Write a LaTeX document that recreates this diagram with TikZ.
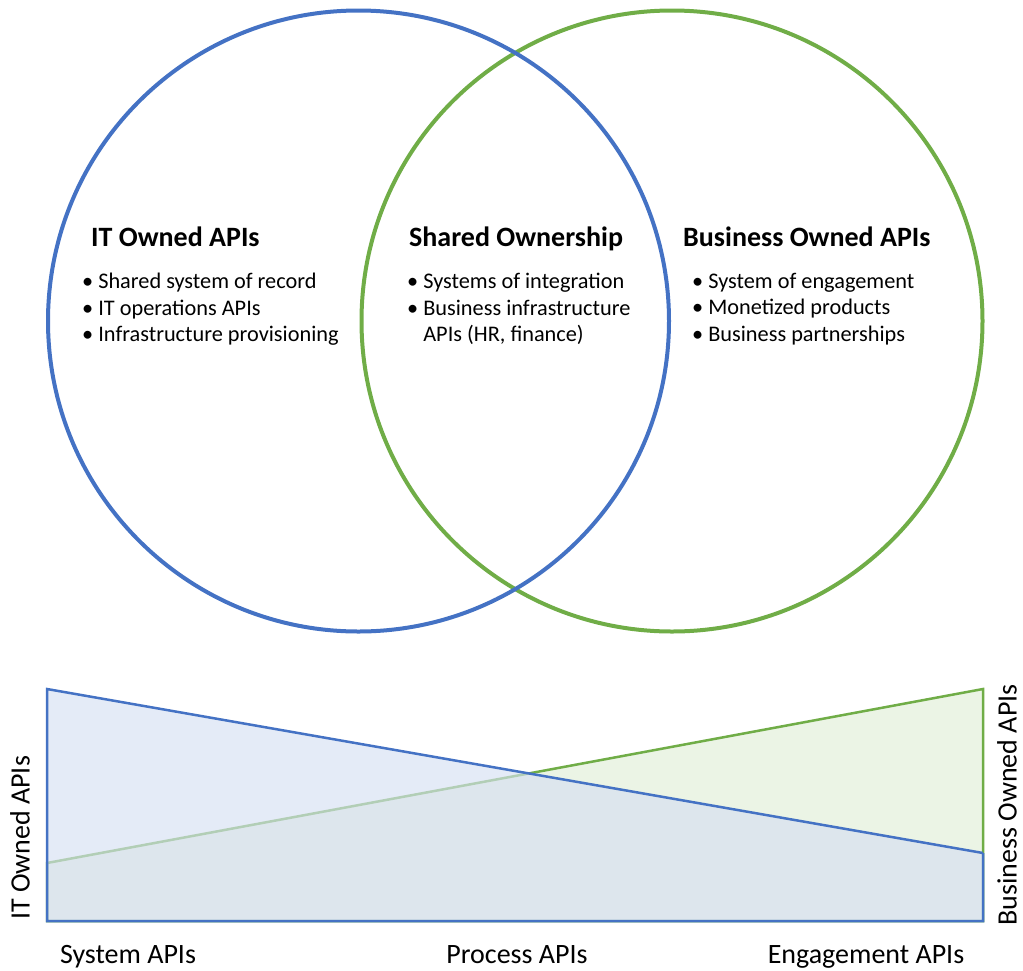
\documentclass[tikz,border=0pt]{standalone}
\usepackage{fontspec}
\setmainfont{Carlito}
\usetikzlibrary{calc}
\usetikzlibrary{positioning}
\definecolor{itblue}{HTML}{4472C4}
\definecolor{bizgreen}{HTML}{70AD47}

\begin{document}
\begin{tikzpicture}[x=1pt,y=-1pt]
\tikzstyle{ring}=[line width=4pt]
\tikzstyle{title}=[font=\fontsize{28}{32}\selectfont\bfseries,anchor=west,inner sep=0pt]
\tikzstyle{list}=[font=\fontsize{22.3}{26.5}\selectfont,align=left,anchor=north west,inner sep=0pt]
\tikzstyle{axis}=[font=\fontsize{28}{32}\selectfont,inner sep=0pt]
\useasboundingbox (0,0) rectangle (1023,970);
% venn
\draw[ring,bizgreen] (672,321) circle (310.5);
\draw[ring,itblue] (358.5,321) circle (310.5);
\node[title] at(91, 237) (itt) {IT Owned APIs};
\node[list] at(82, 273) (itl) {\textbullet\hspace{5pt}Shared system of record\\
                               \textbullet\hspace{5pt}IT operations APIs\\
                               \textbullet\hspace{5pt}Infrastructure provisioning};
\node[title] at(409, 239) (sht) {Shared Ownership};
\node[list] at(407, 273) (shl) {\textbullet\hspace{5pt}Systems of integration\\
                                \textbullet\hspace{5pt}Business infrastructure\\
                                \hphantom{\textbullet\hspace{5pt}}APIs (HR, finance)};
\node[title] at(683, 237) (bzt) {Business Owned APIs};
\node[list] at(692, 273) (bzl) {\textbullet\hspace{5pt}System of engagement\\
                                \textbullet\hspace{5pt}Monetized products\\
                                \textbullet\hspace{5pt}Business partnerships};
% ownership chart
\coordinate (bl) at (47, 921);
\coordinate (br) at (983, 921);
\filldraw[line width=2.5pt,bizgreen,fill=bizgreen!14] (bl) -- (47, 863) -- (983, 689) -- (br) -- cycle;
\fill[itblue!22,fill opacity=0.65] (bl) -- (47, 689) -- (983, 853) -- (br) -- cycle;
\draw[line width=2.5pt,itblue] (983, 853) -- (47, 689) -- (bl) -- (br) -- (983, 853);
\node[axis,rotate=90] at(20, 838) (itax) {IT Owned APIs};
\node[axis,rotate=90] at(1007, 805) (bzax) {Business Owned APIs};
\node[axis,anchor=base] at(128, 963) (sys) {System APIs};
\node[axis,anchor=base] at(517, 963) (proc) {Process APIs};
\node[axis,anchor=base] at(866, 963) (eng) {Engagement APIs};
\end{tikzpicture}
\end{document}
